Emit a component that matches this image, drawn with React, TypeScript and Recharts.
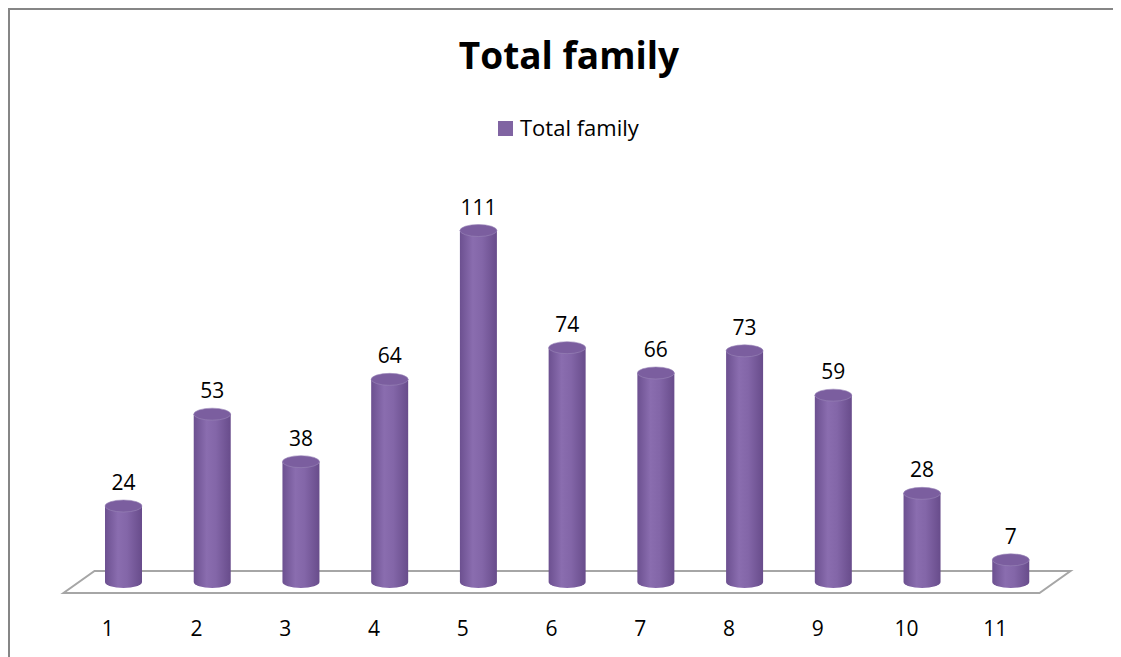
import { BarChart, Bar, XAxis, YAxis, LabelList } from "recharts"

const categories = ["1", "2", "3", "4", "5", "6", "7", "8", "9", "10", "11"]
const totalFamily = [24, 53, 38, 64, 111, 74, 66, 73, 59, 28, 7]
const yDomain = [0, 120]

const data = categories.map((name, i) => ({ name, total: totalFamily[i] }))

const W = 1113
const H = 649
const margin = { top: 194, right: 66, left: 71, bottom: 35 }
const axisHeight = 40
const plotBottom = H - margin.bottom - axisHeight
const plotRight = W - margin.right
// 3d floor depth
const depthX = 15.5
const depthY = 11
const font = "'Open Sans', sans-serif"
const purple = "#8064a2"

function Cylinder(props: any) {
  const { x, y, width, height } = props
  if (width == null || height == null) return null
  const rx = width / 2
  const ry = 6
  const cx = x + rx
  const yB = y + height
  const body = `M${x},${y} L${x},${yB} A${rx},${ry} 0 0 0 ${x + width},${yB} L${x + width},${y} Z`
  return (
    <g>
      <path d={body} fill="url(#cylGrad)" />
      <ellipse cx={cx} cy={y} rx={rx} ry={ry} fill="#7b5e9f" stroke="#9b86b8" strokeWidth={0.6} />
    </g>
  )
}

function Tick(props: any) {
  const { x, y, payload } = props
  return (
    <text x={x - depthX} y={y + 46} textAnchor="middle" fontSize={21} fontFamily={font} fill="#000">
      {payload.value}
    </text>
  )
}

export default function App() {
  return (
    <div style={{ position: "relative", width: W, height: H }}>
      <svg width={W} height={H} style={{ position: "absolute", left: 0, top: 0 }}>
        <line x1={0} y1={1} x2={W} y2={1} stroke="#868686" strokeWidth={2} />
        <line x1={1} y1={0} x2={1} y2={H} stroke="#868686" strokeWidth={2} />
        <text x={561} y={61} textAnchor="middle" fontSize={37} fontWeight="bold" fontFamily={font} fill="#000">
          Total family
        </text>
        <rect x={490} y={113} width={15} height={15} fill={purple} />
        <text x={512} y={128} fontSize={22} fontFamily={font} fill="#000">
          Total family
        </text>
        <polygon
          points={`${margin.left - depthX},${plotBottom + depthY} ${plotRight - depthX},${plotBottom + depthY} ${plotRight + depthX},${plotBottom - depthY} ${margin.left + depthX},${plotBottom - depthY}`}
          fill="none"
          stroke="#a6a6a6"
          strokeWidth={2}
        />
      </svg>
      <div style={{ position: "absolute", left: 0, top: 0 }}>
        <BarChart width={W} height={H} data={data} margin={margin}>
          <defs>
            <linearGradient id="cylGrad" x1="0" y1="0" x2="1" y2="0">
              <stop offset="0%" stopColor="#6c5090" />
              <stop offset="35%" stopColor="#8a6daf" />
              <stop offset="60%" stopColor="#8366a8" />
              <stop offset="100%" stopColor="#684c8b" />
            </linearGradient>
          </defs>
          <XAxis dataKey="name" axisLine={false} tickLine={false} interval={0} height={axisHeight} tick={<Tick />} />
          <YAxis hide domain={yDomain} />
          <Bar dataKey="total" barSize={37} shape={<Cylinder />} isAnimationActive={false}>
            <LabelList dataKey="total" position="top" offset={16} fontSize={21} fontFamily={font} fill="#000" />
          </Bar>
        </BarChart>
      </div>
    </div>
  )
}
